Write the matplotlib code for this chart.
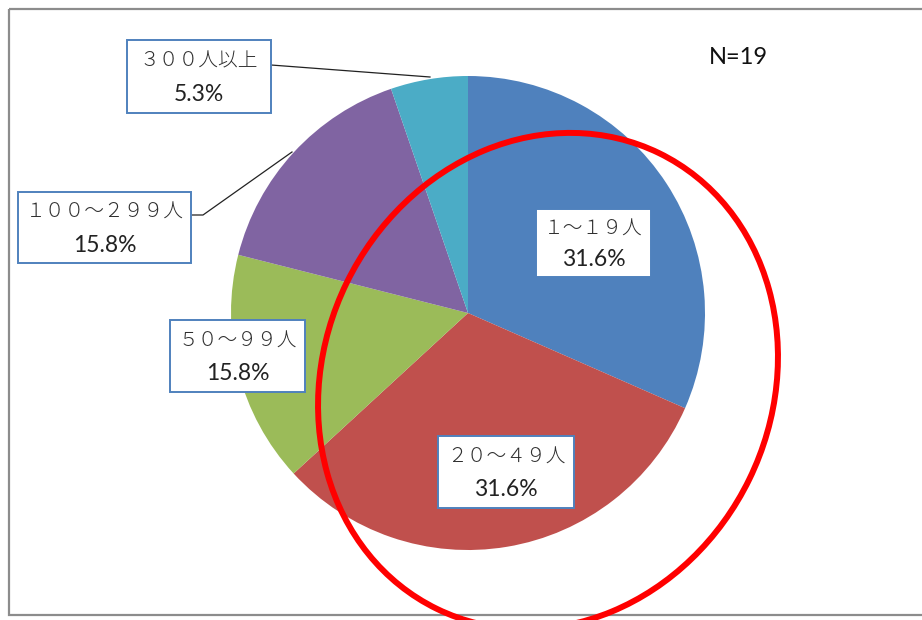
import matplotlib
matplotlib.use("Agg")
import matplotlib.pyplot as plt
from matplotlib.patches import Rectangle, Ellipse

plt.rcParams['font.family'] = ['Noto Sans CJK JP', 'DejaVu Sans']

# 従業員規模別の回答数 (N=19)
categories = ['１～１９人', '２０～４９人', '５０～９９人', '１００～２９９人', '３００人以上']
counts = [6, 6, 3, 3, 1]
colors = ['#4F81BD', '#C0504D', '#9BBB59', '#8064A2', '#4BACC6']

total = sum(counts)
shares = [c / total * 100 for c in counts]

W, H = 922, 620
fig = plt.figure(figsize=(W / 100, H / 100), dpi=100)
ax = fig.add_axes([0, 0, 1, 1])

# outer chart frame
ax.add_patch(Rectangle((9, 9), W + 20, 606, fill=False, edgecolor='#8c8c8c', lw=1.6))

# pie: clockwise from 12 o'clock (y axis is inverted below)
ax.pie(counts, colors=colors, startangle=-90, counterclock=True,
       center=(468, 313), radius=237, frame=True,
       wedgeprops=dict(linewidth=0))
ax.set_xlim(0, W)
ax.set_ylim(H, 0)
ax.set_aspect('equal')
ax.axis('off')

# label boxes: (left, top, right, bottom)
boxes = [
    (536, 209, 651, 277),
    (438, 436, 574, 508),
    (170, 320, 305, 392),
    (18, 192, 191, 263),
    (127, 40, 271, 113),
]

for cat, pct, (l, t, r, b) in zip(categories, shares, boxes):
    ax.add_patch(Rectangle((l, t), r - l, b - t, facecolor='white',
                           edgecolor='#4F81BD', lw=1.4, zorder=5))
    cx = (l + r) / 2
    ax.text(cx, t + (b - t) * 0.29, cat, ha='center', va='center',
            fontsize=14.2, fontweight='light', color='#2e2e2e', zorder=6)
    ax.text(cx, t + (b - t) * 0.75, f'{pct:.1f}%', ha='center', va='center',
            fontsize=16.5, family=['Lato', 'DejaVu Sans'], color='#222222', zorder=6)

# leader lines
ax.plot([271, 430], [65, 77], color='#222222', lw=0.9, zorder=4)
ax.plot([191, 203, 292], [215, 215, 152], color='#222222', lw=0.9, zorder=4)

ax.text(738, 58, 'N=19', ha='center', va='center', fontsize=17,
        family=['Lato', 'DejaVu Sans'], color='#111111')

# highlight ring, slightly tilted
ax.add_patch(Ellipse((548, 381), 448, 507, angle=26, fill=False,
                     edgecolor='#FF0000', lw=4.3, zorder=7))

fig.savefig('out.png', dpi=100)
